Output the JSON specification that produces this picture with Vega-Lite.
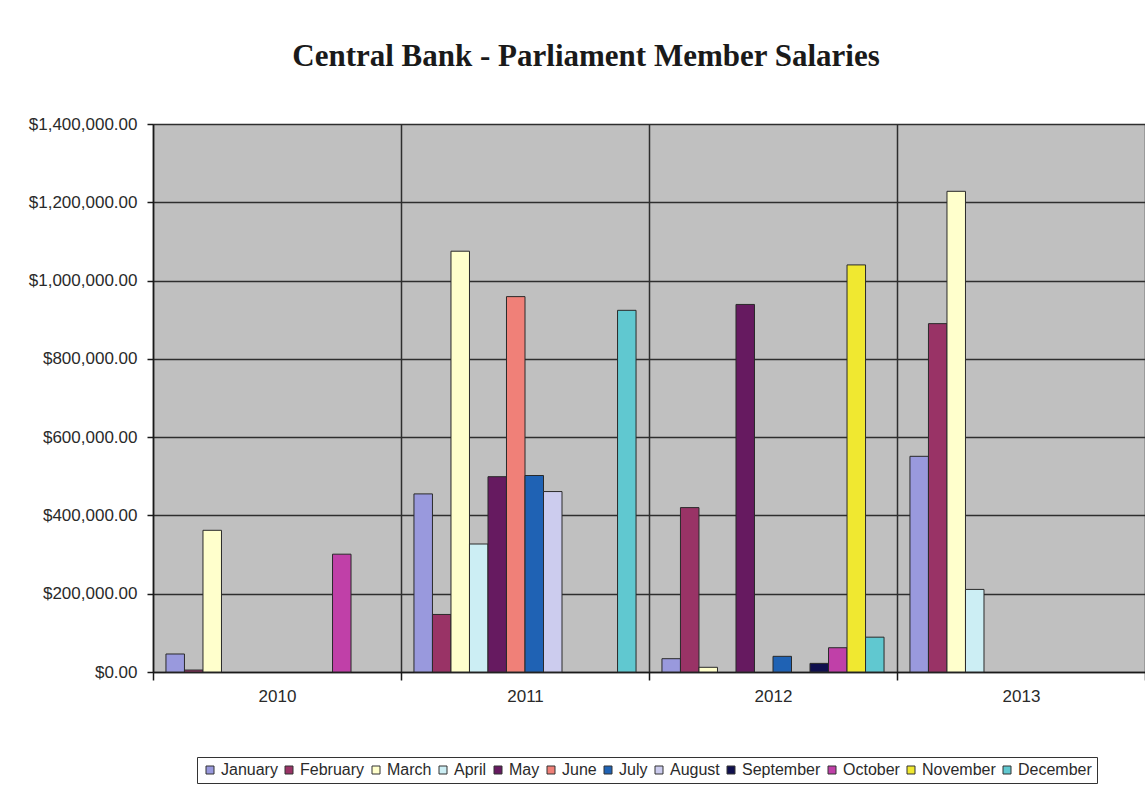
{
  "$schema": "https://vega.github.io/schema/vega-lite/v6.json",
  "autosize": {"type": "none"},
  "width": 992,
  "height": 548,
  "padding": {"left": 153, "top": 124, "right": 0, "bottom": 116},
  "background": "white",
  "title": {
    "text": "Central Bank - Parliament Member Salaries",
    "font": "Liberation Serif",
    "fontSize": 31,
    "fontWeight": "bold",
    "color": "#1a1a1a",
    "anchor": "middle",
    "frame": "group",
    "dx": -63,
    "baseline": "alphabetic",
    "offset": 18
  },
  "data": {
    "values": [
      {"year": "2010", "month": "January", "salary": 46000},
      {"year": "2010", "month": "February", "salary": 5000},
      {"year": "2010", "month": "March", "salary": 362000},
      {"year": "2010", "month": "October", "salary": 301000},
      {"year": "2011", "month": "January", "salary": 455000},
      {"year": "2011", "month": "February", "salary": 147000},
      {"year": "2011", "month": "March", "salary": 1075000},
      {"year": "2011", "month": "April", "salary": 327000},
      {"year": "2011", "month": "May", "salary": 499000},
      {"year": "2011", "month": "June", "salary": 959000},
      {"year": "2011", "month": "July", "salary": 502000},
      {"year": "2011", "month": "August", "salary": 461000},
      {"year": "2011", "month": "December", "salary": 924000},
      {"year": "2012", "month": "January", "salary": 34000},
      {"year": "2012", "month": "February", "salary": 420000},
      {"year": "2012", "month": "March", "salary": 12000},
      {"year": "2012", "month": "May", "salary": 939000},
      {"year": "2012", "month": "July", "salary": 40000},
      {"year": "2012", "month": "September", "salary": 22000},
      {"year": "2012", "month": "October", "salary": 62000},
      {"year": "2012", "month": "November", "salary": 1040000},
      {"year": "2012", "month": "December", "salary": 89000},
      {"year": "2013", "month": "January", "salary": 551000},
      {"year": "2013", "month": "February", "salary": 890000},
      {"year": "2013", "month": "March", "salary": 1228000},
      {"year": "2013", "month": "April", "salary": 211000}
    ]
  },
  "mark": {"type": "bar", "stroke": "#2a2a2a", "strokeWidth": 1},
  "encoding": {
    "x": {
      "field": "year",
      "type": "nominal",
      "scale": {"paddingInner": 0, "paddingOuter": 0},
      "axis": {
        "title": null,
        "labelAngle": 0,
        "labelFont": "Liberation Sans",
        "labelFontSize": 17,
        "labelColor": "#2a2a2a",
        "labelPadding": 8,
        "tickBand": "extent",
        "tickSize": 8,
        "tickColor": "#1a1a1a",
        "tickWidth": 1.5,
        "domainColor": "#1a1a1a",
        "domainWidth": 1.5,
        "grid": true,
        "gridColor": "#2e2e2e",
        "gridWidth": 1.5
      }
    },
    "xOffset": {
      "field": "month",
      "type": "nominal",
      "scale": {
        "domain": ["January", "February", "March", "April", "May", "June", "July", "August", "September", "October", "November", "December"],
        "paddingInner": 0,
        "paddingOuter": 0.7
      }
    },
    "y": {
      "field": "salary",
      "type": "quantitative",
      "scale": {"domain": [0, 1400000], "nice": false},
      "axis": {
        "title": null,
        "values": [0, 200000, 400000, 600000, 800000, 1000000, 1200000, 1400000],
        "format": "$,.2f",
        "labelFont": "Liberation Sans",
        "labelFontSize": 17,
        "labelColor": "#2a2a2a",
        "labelPadding": 10,
        "tickSize": 6,
        "tickColor": "#1a1a1a",
        "tickWidth": 1.5,
        "domainColor": "#1a1a1a",
        "domainWidth": 1.5,
        "grid": true,
        "gridColor": "#2e2e2e",
        "gridWidth": 1.5
      }
    },
    "color": {
      "field": "month",
      "type": "nominal",
      "scale": {
        "domain": ["January", "February", "March", "April", "May", "June", "July", "August", "September", "October", "November", "December"],
        "range": ["#9999dd", "#993366", "#ffffcc", "#cceef4", "#661a60", "#f08078", "#1f62b4", "#ccccee", "#10104e", "#c040a8", "#f0e830", "#60c8d0"]
      },
      "legend": {
        "title": null,
        "orient": "none",
        "legendX": 44,
        "legendY": 633,
        "direction": "horizontal",
        "columns": 12,
        "columnPadding": 3,
        "labelFont": "Liberation Sans",
        "labelFontSize": 16,
        "labelColor": "#2a2a2a",
        "labelOffset": 3,
        "symbolType": "square",
        "symbolSize": 64,
        "symbolStrokeColor": "#333333",
        "symbolStrokeWidth": 1,
        "strokeColor": "#333333",
        "fillColor": "white",
        "padding": 5,
        "cornerRadius": 0
      }
    }
  },
  "config": {
    "view": {"fill": "#c0c0c0", "stroke": "#7f7f7f", "strokeWidth": 1}
  }
}
